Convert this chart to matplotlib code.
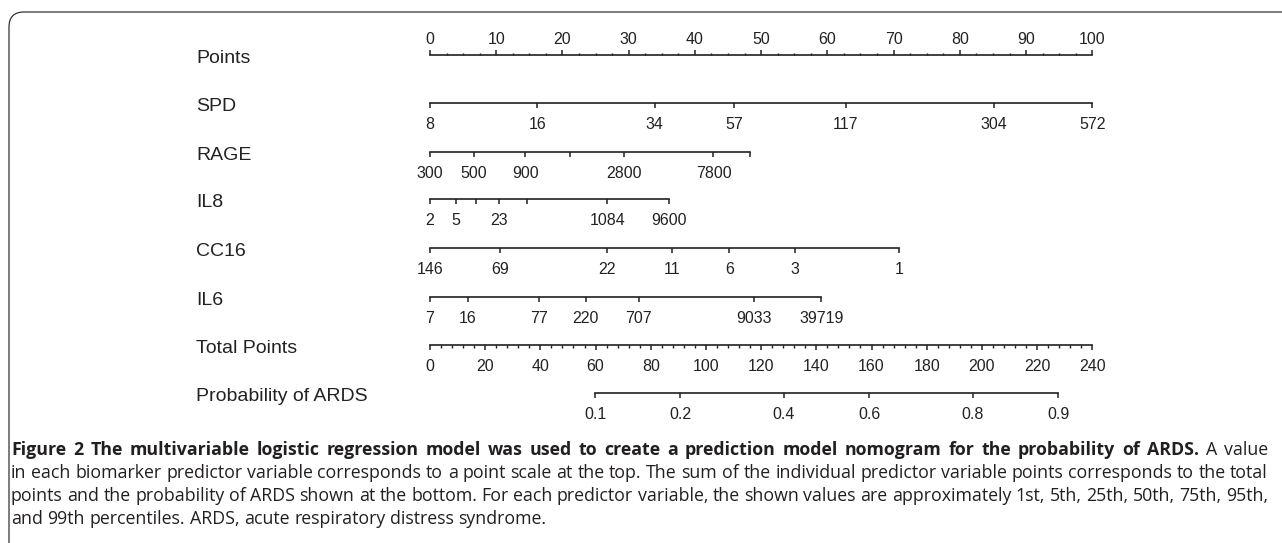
import matplotlib
matplotlib.use('Agg')
import matplotlib.pyplot as plt
import numpy as np
from matplotlib.patches import FancyBboxPatch

plt.rcParams['font.family'] = ['Liberation Sans', 'DejaVu Sans']

W, H = 1282, 543
INK = '#231f20'

# nomogram rows: names, tick labels and their point positions
row_names = ['Points', 'SPD', 'RAGE', 'IL8', 'CC16', 'IL6', 'Total Points', 'Probability of ARDS']

points_ticks = list(range(0, 101, 10))
points_minor = list(np.arange(0, 100.01, 2.5))

spd_labels = ['8', '16', '34', '57', '117', '304', '572']
spd_points = [0, 16.2, 33.9, 45.9, 62.8, 85.2, 100]

rage_labels = ['300', '500', '900', '', '2800', '7800', '']
rage_points = [0, 6.6, 14.4, 21.1, 29.3, 42.8, 48.3]

il8_labels = ['2', '5', '', '23', '', '1084', '9600']
il8_points = [0, 3.9, 6.9, 10.4, 14.6, 26.8, 36.1]

cc16_labels = ['146', '69', '22', '11', '6', '3', '1']
cc16_points = [0, 10.6, 26.8, 36.6, 45.2, 55.1, 70.8]

il6_labels = ['7', '16', '77', '220', '707', '9033', '39719']
il6_points = [0, 5.7, 16.4, 23.5, 31.5, 48.9, 59.1]

total_ticks = list(range(0, 241, 20))
total_minor = list(range(0, 241, 4))

prob_labels = ['0.1', '0.2', '0.4', '0.6', '0.8', '0.9']
prob_total = [59.8, 90.7, 128.2, 159.2, 196.7, 227.7]

caption = [
    [('Figure 2 The multivariable logistic regression model was used to create a prediction model '
      'nomogram for the probability of ARDS.', 'bold'), ('A value', 'normal')],
    [('in each biomarker predictor variable corresponds to a point scale at the top. The sum of the '
      'individual predictor variable points corresponds to the total', 'normal')],
    [('points and the probability of ARDS shown at the bottom. For each predictor variable, the shown '
      'values are approximately 1st, 5th, 25th, 50th, 75th, 95th,', 'normal')],
    [('and 99th percentiles. ARDS, acute respiratory distress syndrome.', 'normal')],
]

# layout in pixels
x0, xw = 430, 662.3
row_y = [55, 103, 152, 199, 248, 297, 345, 393]
label_x = 196

fig = plt.figure(figsize=(W / 100, H / 100), dpi=100)


def row_axis(y, xmax, ticks, labels, minor=None, top=False):
    ax = fig.add_axes([x0 / W, 1 - y / H, xw / W, 0.0001])
    ax.set_xlim(0, xmax)
    ax.set_ylim(0, 1)
    ax.patch.set_visible(False)
    for s in ax.spines.values():
        s.set_visible(False)
    sp = ax.spines['top' if top else 'bottom']
    sp.set_visible(True)
    sp.set_color(INK)
    sp.set_linewidth(1.2)
    sp.set_bounds(ticks[0], ticks[-1])
    ax.set_yticks([])
    if top:
        ax.xaxis.tick_top()
    ax.set_xticks(ticks, labels)
    if minor is not None:
        ax.set_xticks(minor, minor=True)
    ax.tick_params(axis='x', which='major', length=3.6, width=1.1, color=INK,
                   labelsize=11.5, labelcolor='#222222', pad=2.4 if top else 6.6)
    ax.tick_params(axis='x', which='minor', length=1.8, width=1.0, color=INK)
    return ax


row_axis(row_y[0], 100, points_ticks, [str(t) for t in points_ticks], minor=points_minor, top=True)
row_axis(row_y[1], 100, spd_points, spd_labels)
row_axis(row_y[2], 100, rage_points, rage_labels)
row_axis(row_y[3], 100, il8_points, il8_labels)
row_axis(row_y[4], 100, cc16_points, cc16_labels)
row_axis(row_y[5], 100, il6_points, il6_labels)
row_axis(row_y[6], 240, total_ticks, [str(t) for t in total_ticks], minor=total_minor)
row_axis(row_y[7], 240, prob_total, prob_labels)

for name, y in zip(row_names, row_y):
    fig.text(label_x / W, 1 - (y + 8) / H, name, fontsize=14, color='#222222',
             ha='left', va='baseline')

# frame with rounded top-left corner
frame = FancyBboxPatch((0.09, -1), 20, H / 100 - 0.12 + 1,
                       boxstyle='round,pad=0,rounding_size=0.15',
                       transform=fig.dpi_scale_trans, fill=False,
                       lw=0.9, ec='#333333', clip_on=False)
fig.add_artist(frame)

# caption, justified between left and right
renderer = fig.canvas.get_renderer()
cap_font = ['Open Sans', 'DejaVu Sans']
cap_left, cap_right = 11, 1268
cap_y = [448, 471, 494, 517]


def text_w(s, size, weight):
    t = fig.text(0, 0, s, fontsize=size, fontweight=weight, family=cap_font)
    w = t.get_window_extent(renderer).width
    t.remove()
    return w


ref = caption[1][0][0]
w10 = text_w(ref, 10, 'normal')
cap_size = 10 * (cap_right - cap_left) / w10

for i, (parts, yc) in enumerate(zip(caption, cap_y)):
    words = []
    for txt, wt in parts:
        words += [(w, wt) for w in txt.split(' ')]
    widths = [text_w(w, cap_size, wt) for w, wt in words]
    space = text_w('a a', cap_size, 'normal') - text_w('aa', cap_size, 'normal')
    if i < len(caption) - 1:
        gap = (cap_right - cap_left - sum(widths)) / (len(words) - 1)
    else:
        gap = space
    x = cap_left
    for (w, wt), wd in zip(words, widths):
        fig.text(x / W, 1 - yc / H, w, fontsize=cap_size, fontweight=wt, family=cap_font,
                 color=INK, ha='left', va='center_baseline')
        x += wd + gap

fig.savefig('out.png', dpi=100)
